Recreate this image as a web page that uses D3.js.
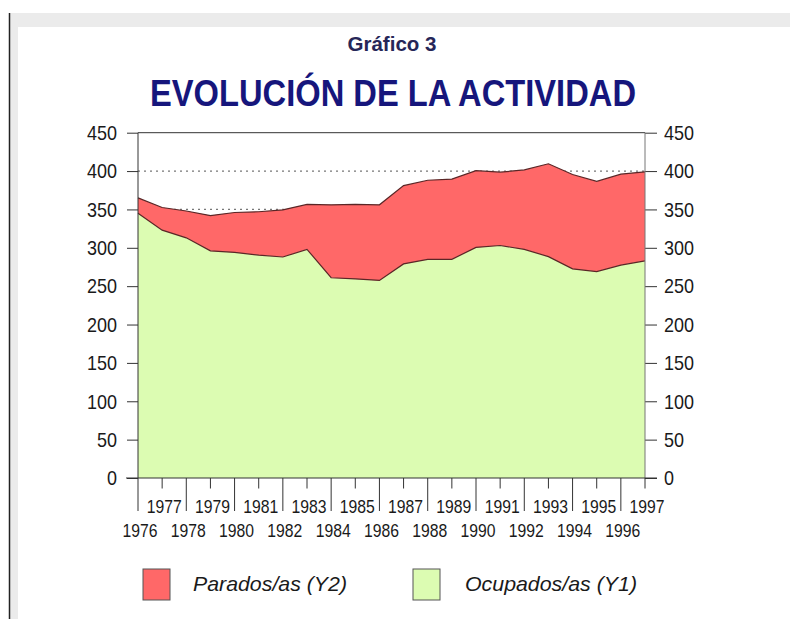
<!DOCTYPE html>
<html><head><meta charset="utf-8">
<script src="https://cdn.jsdelivr.net/npm/d3@7"></script>
<style>body{margin:0;background:#fff}svg{display:block}text{font-family:"Liberation Sans",Arial,sans-serif}</style>
</head><body>
<script>
const years = [1976,1977,1978,1979,1980,1981,1982,1983,1984,1985,1986,1987,1988,1989,1990,1991,1992,1993,1994,1995,1996,1997];
const ocupados = [345,323,313,296,294,290.5,288,298,261,259.5,257.5,279,285,285,300.5,303,298,288.5,272.5,269,277.5,283];
const parados = [20,29.5,35,46,52,56.5,61.5,58.5,95,97,98.5,102,103,104.5,100,95.5,103.5,121,123,117.5,118.5,116];
const yTicks = [0,50,100,150,200,250,300,350,400,450];
const seriesNames = ["Parados/as (Y2)","Ocupados/as (Y1)"];
const colors = {ocupados:"#dcfcb2", parados:"#ff6868"};

const W=790,H=619;
const svg=d3.select("body").append("svg").attr("width",W).attr("height",H);
// frame
svg.append("rect").attr("x",0).attr("y",0).attr("width",W).attr("height",H).attr("fill","#fff");
svg.append("rect").attr("x",10).attr("y",13).attr("width",W-10).attr("height",H-13).attr("fill","#ebebeb");
svg.append("rect").attr("x",18).attr("y",27).attr("width",W-18).attr("height",H-27).attr("fill","#fff");
svg.append("line").attr("x1",9.5).attr("x2",9.5).attr("y1",13).attr("y2",H).attr("stroke","#222").attr("stroke-width",1.5);

const L=138,R=645,T=132.7,B=478;
const x=d3.scalePoint().domain(years).range([L,R]);
const y=d3.scaleLinear().domain([0,450]).range([B,T]);

// titles
svg.append("text").attr("x",392).attr("y",51).attr("text-anchor","middle")
  .attr("font-size",21).attr("font-weight","bold").attr("fill","#262658")
  .attr("textLength",89).attr("lengthAdjust","spacingAndGlyphs").text("Gráfico 3");
svg.append("text").attr("x",393).attr("y",106).attr("text-anchor","middle")
  .attr("font-size",37).attr("font-weight","bold").attr("fill","#16167c")
  .attr("textLength",486).attr("lengthAdjust","spacingAndGlyphs").text("EVOLUCIÓN DE LA ACTIVIDAD");

// grid (dotted) behind areas
svg.append("g").selectAll("line").data(yTicks.filter(d=>d>0&&d<450)).join("line")
  .attr("x1",L).attr("x2",R).attr("y1",d=>y(d)).attr("y2",d=>y(d))
  .attr("stroke","#777").attr("stroke-dasharray","2,4").attr("stroke-width",1.2);

// stacked areas
const data=years.map((yr,i)=>({year:yr,ocupados:ocupados[i],parados:parados[i]}));
const stack=d3.stack().keys(["ocupados","parados"])(data);
const area=d3.area().x(d=>x(d.data.year)).y0(d=>y(d[0])).y1(d=>y(d[1]));
const line=d3.line().x(d=>x(d.data.year)).y(d=>y(d[1]));
svg.append("g").selectAll("path").data(stack).join("path")
  .attr("d",area).attr("fill",d=>colors[d.key]);
svg.append("g").selectAll("path").data(stack).join("path")
  .attr("d",line).attr("fill","none").attr("stroke","#5a2626").attr("stroke-width",1.2);

// top frame line
svg.append("line").attr("x1",L).attr("x2",R).attr("y1",T).attr("y2",T).attr("stroke","#333").attr("stroke-width",1);

// left axis
const gl=svg.append("g").attr("transform",`translate(${L},0)`)
  .call(d3.axisLeft(y).tickValues(yTicks).tickSize(11).tickPadding(10));
gl.select(".domain").remove();
gl.selectAll(".tick line").attr("stroke","#333");
gl.selectAll("text").attr("font-size",21).attr("fill","#1a1a1a").attr("font-family","Liberation Sans, Arial, sans-serif")
  .attr("textLength",d=>String(d).length*10).attr("lengthAdjust","spacingAndGlyphs");
svg.append("line").attr("x1",L).attr("x2",L).attr("y1",T).attr("y2",B).attr("stroke","#333");

// right axis
const gr=svg.append("g").attr("transform",`translate(${R},0)`)
  .call(d3.axisRight(y).tickValues(yTicks).tickSize(12).tickPadding(7));
gr.select(".domain").remove();
gr.selectAll(".tick line").attr("stroke","#333");
gr.selectAll("text").attr("font-size",21).attr("fill","#1a1a1a").attr("font-family","Liberation Sans, Arial, sans-serif")
  .attr("textLength",d=>String(d).length*10).attr("lengthAdjust","spacingAndGlyphs");
svg.append("line").attr("x1",R).attr("x2",R).attr("y1",T).attr("y2",B).attr("stroke","#777");

// x axis baseline
svg.append("line").attr("x1",L-12).attr("x2",R+12).attr("y1",B).attr("y2",B).attr("stroke","#333");
const gx=svg.append("g");
gx.selectAll("line").data(years).join("line")
  .attr("x1",d=>x(d)).attr("x2",d=>x(d)).attr("y1",B)
  .attr("y2",d=>B+((d%2===0)?33:10.5)).attr("stroke","#333");
gx.selectAll("text").data(years).join("text")
  .attr("x",d=>x(d)+2).attr("y",d=>(d%2===0)?536.5:513)
  .attr("text-anchor","middle").attr("font-size",18.5).attr("fill","#1a1a1a")
  .attr("textLength",35).attr("lengthAdjust","spacingAndGlyphs").text(d=>d);

// legend
const leg=[{name:seriesNames[0],color:colors.parados,rx:143,tx:193,tl:154},
           {name:seriesNames[1],color:colors.ocupados,rx:413,tx:465,tl:172}];
const lg=svg.append("g").selectAll("g").data(leg).join("g");
lg.append("rect").attr("x",d=>d.rx).attr("y",569).attr("width",27).attr("height",31)
  .attr("fill",d=>d.color).attr("stroke","#555").attr("stroke-width",1);
lg.append("text").attr("x",d=>d.tx).attr("y",591).attr("font-size",21).attr("font-style","italic")
  .attr("fill","#1a1a1a").attr("textLength",d=>d.tl).attr("lengthAdjust","spacingAndGlyphs").text(d=>d.name);
</script>
</body></html>
